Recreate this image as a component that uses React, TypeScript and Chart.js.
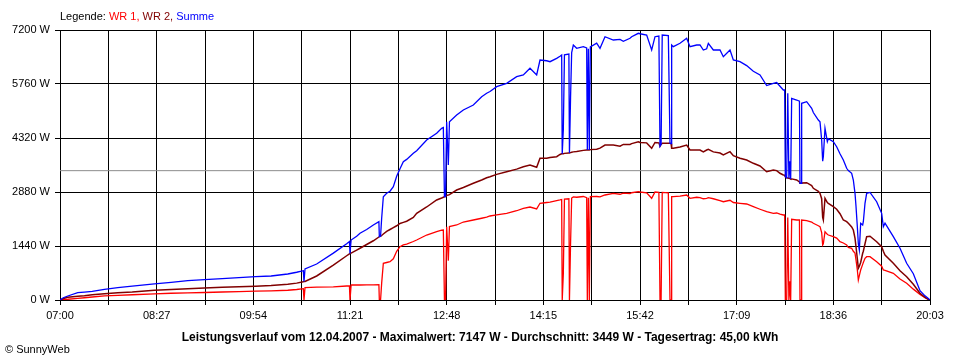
import React, { useEffect, useRef } from 'react';
import { Chart, registerables } from 'chart.js';

Chart.register(...registerables);

// minutes after 07:00
const minutesAfterStart = [
  0, 3, 7, 16, 22, 29, 40, 52, 65, 85, 100, 115, 130, 146, 161, 176, 190, 205, 213, 219,
  219.6, 220.5, 231, 246, 258, 260.5, 261, 262, 267, 270, 276, 282, 287, 287.4, 288.5, 289.5, 291, 294, 297, 300,
  303, 306, 309, 312, 318, 321, 330, 339, 343.5, 345, 346, 347, 348, 349.5, 350.5, 357, 363, 372, 379.5, 384,
  387, 393, 402, 411, 417, 423, 429, 432, 438, 441, 447, 450, 451.5, 452, 453, 454, 458, 458.5, 459.5, 460.5,
  462, 465, 471, 474, 474.6, 475.5, 476.4, 477.3, 483, 486, 490.5, 498, 504, 507, 513, 514.5, 520.5, 522, 528, 532.5,
  535.5, 539, 540, 541, 542, 547.5, 549, 550, 550.5, 552, 558, 564, 567, 573, 576, 579, 582, 583.5, 588, 594,
  597, 603, 606, 612, 618, 624, 630, 636, 642, 645, 648, 651, 652.2, 652.8, 654, 655, 656, 657, 657.6, 658.5,
  663, 665.5, 666, 667, 667.5, 672, 676.5, 678, 682.5, 684, 685.5, 686.4, 687, 688.5, 690.6, 691.5, 696, 699, 702, 705,
  708, 709.5, 712.5, 714, 715.5, 716.4, 717.6, 718.5, 719.4, 720.6, 722.4, 723, 724.5, 726, 729, 735, 739.5, 741, 742.5, 750,
  756, 762, 768, 774, 778.5, 781.5, 783,
];

const wr1Watts = [
  0, 15, 20, 45, 60, 80, 110, 125, 140, 165, 180, 190, 200, 213, 225, 235, 245, 260, 280, 301,
  0, 330, 345, 350, 373, 375, 0, 400, 400, 400, 405, 405, 410, 0, 0, 450, 979, 1000, 1021, 1100,
  1300, 1421, 1470, 1493, 1560, 1600, 1733, 1821, 1860, 1867, 0, 0, 1955, 1050, 1960, 2000, 2080, 2133, 2180, 2210,
  2240, 2270, 2312, 2380, 2445, 2480, 2430, 2579, 2600, 2610, 2650, 2667, 2680, 0, 700, 2690, 2700, 0, 1500, 2720,
  2750, 2740, 2760, 2730, 0, 2728, 0, 2755, 2760, 2750, 2800, 2845, 2820, 2850, 2840, 2860, 2888, 2880, 2860, 2712,
  2880, 2870, 0, 0, 2870, 2860, 0, 0, 2755, 2755, 2770, 2800, 2712, 2740, 2730, 2700, 2712, 2730, 2700, 2650,
  2621, 2660, 2600, 2579, 2560, 2488, 2420, 2355, 2312, 2320, 2290, 2267, 2267, 0, 0, 2200, 0, 500, 0, 2152,
  2133, 2133, 0, 0, 2133, 2115, 2080, 2045, 1980, 1955, 1800, 1467, 1500, 1821, 1750, 1733, 1688, 1650, 1555, 1520,
  1467, 1400, 1379, 1300, 1250, 1067, 800, 533, 650, 800, 950, 1000, 1112, 1155, 1155, 1020, 900, 800, 790, 712,
  560, 445, 290, 150, 60, 19, 0,
];

const wr2Watts = [
  0, 40, 72, 100, 115, 140, 168, 195, 213, 259, 280, 301, 320, 339, 352, 365, 385, 419, 450, 488,
  490, 495, 640, 933, 1180, 1230, 1240, 1250, 1330, 1380, 1480, 1580, 1680, 1690, 1700, 1720, 1760, 1830, 1880, 1930,
  1980, 2040, 2070, 2100, 2200, 2312, 2480, 2667, 2720, 2740, 2755, 2760, 2790, 2800, 2810, 2933, 3000, 3112, 3200, 3260,
  3288, 3350, 3421, 3490, 3555, 3600, 3540, 3779, 3779, 3800, 3821, 3880, 3900, 3900, 3900, 3910, 3920, 3920, 3930, 3940,
  3950, 3960, 3990, 4000, 4000, 4000, 4000, 4010, 4020, 4050, 4133, 4133, 4100, 4150, 4150, 4170, 4221, 4200, 4190, 4045,
  4200, 4190, 4100, 4150, 4179, 4179, 4179, 4170, 4045, 4045, 4080, 4133, 4000, 4000, 4000, 3950, 4000, 4020, 3950, 3920,
  3867, 3955, 3850, 3779, 3733, 3645, 3573, 3421, 3467, 3450, 3379, 3333, 3330, 3288, 3260, 3250, 3245, 3240, 3230, 3230,
  3200, 3150, 3112, 3112, 3120, 3128, 3050, 2979, 2900, 2845, 2700, 2200, 2133, 2712, 2600, 2579, 2488, 2420, 2300, 2133,
  2090, 2045, 1950, 1867, 1650, 1421, 1100, 845, 900, 1000, 1245, 1300, 1500, 1688, 1700, 1555, 1420, 1300, 1200, 979,
  780, 621, 420, 179, 70, 19, 0,
];

const summeWatts = [
  0, 60, 107, 195, 210, 232, 285, 328, 370, 430, 470, 515, 541, 568, 595, 621, 640, 693, 740, 781,
  495, 830, 960, 1250, 1500, 1560, 1240, 1600, 1700, 1779, 1880, 2000, 2088, 1690, 1700, 2179, 2755, 2845, 2900, 3021,
  3300, 3500, 3688, 3750, 3912, 3980, 4267, 4445, 4579, 4600, 2755, 2760, 4755, 3600, 4755, 4933, 5067, 5200, 5421, 5512,
  5560, 5688, 5779, 5955, 6000, 6179, 6000, 6400, 6380, 6355, 6445, 6500, 6533, 3900, 4550, 6540, 6560, 3920, 5400, 6600,
  6800, 6712, 6755, 6720, 4000, 6700, 4000, 6750, 6850, 6712, 7021, 6933, 6950, 6900, 6979, 7021, 7112, 7100, 7067, 6667,
  7021, 7040, 4100, 4150, 7067, 7050, 4179, 4170, 6800, 6755, 6845, 6979, 6755, 6800, 6800, 6667, 6700, 6845, 6667, 6667,
  6488, 6667, 6400, 6355, 6250, 6100, 6000, 5720, 5779, 5800, 5700, 5600, 5600, 3288, 3260, 5512, 3245, 3700, 3230, 5379,
  5333, 5300, 3112, 3112, 5245, 5288, 5112, 5000, 4800, 4750, 4267, 3700, 3821, 4579, 4221, 4300, 4221, 4088, 3900, 3733,
  3512, 3450, 3379, 3200, 2845, 2500, 1955, 1500, 1333, 2045, 2000, 2088, 2579, 2845, 2870, 2621, 2312, 1955, 2050, 1688,
  1379, 979, 700, 250, 110, 40, 0,
];

const averageWatts = 3449;
const startClockMinutes = 7 * 60;
const xMax = 783;
const xGridStep = 43.5;
const yMax = 7200;
const yStep = 1440;

const seriesNames = ['WR 1', 'WR 2', 'Summe'];
const seriesColors = ['#ff0000', '#800000', '#0000ff'];
const captionText =
  'Leistungsverlauf vom 12.04.2007 - Maximalwert: 7147 W - Durchschnitt: 3449 W - Tagesertrag: 45,00 kWh';
const creditText = '\u00a9 SunnyWeb';

const FONT = '"Liberation Sans", Arial, sans-serif';

function fmtClock(m: number): string {
  const total = Math.round(startClockMinutes + m);
  const h = Math.floor(total / 60);
  const mm = total % 60;
  return String(h).padStart(2, '0') + ':' + String(mm).padStart(2, '0');
}

function toPoints(vals: number[]) {
  return vals.map((v, i) => ({ x: minutesAfterStart[i], y: v }));
}

export default function App() {
  const ref = useRef<HTMLCanvasElement | null>(null);

  useEffect(() => {
    if (!ref.current) return;
    const chart = new Chart(ref.current, {
      type: 'line',
      data: {
        datasets: [
          {
            label: seriesNames[2],
            data: toPoints(summeWatts),
            borderColor: seriesColors[2],
            borderWidth: 1.3,
            pointRadius: 0,
            tension: 0,
            order: 1,
          },
          {
            label: seriesNames[1],
            data: toPoints(wr2Watts),
            borderColor: seriesColors[1],
            borderWidth: 1.5,
            pointRadius: 0,
            tension: 0,
            order: 2,
          },
          {
            label: seriesNames[0],
            data: toPoints(wr1Watts),
            borderColor: seriesColors[0],
            borderWidth: 1.3,
            pointRadius: 0,
            tension: 0,
            order: 3,
          },
          {
            label: 'Durchschnitt',
            data: [
              { x: 0, y: averageWatts },
              { x: xMax, y: averageWatts },
            ],
            borderColor: '#8c8c8c',
            borderWidth: 1,
            pointRadius: 0,
            order: 10,
          },
        ],
      },
      options: {
        animation: false,
        responsive: false,
        maintainAspectRatio: false,
        layout: { padding: { top: 30, right: 30, bottom: 30, left: 0 } },
        plugins: { legend: { display: false }, tooltip: { enabled: false }, title: { display: false } },
        scales: {
          x: {
            type: 'linear',
            min: 0,
            max: xMax,
            afterBuildTicks: (s: any) => {
              const n = Math.round(xMax / xGridStep);
              s.ticks = Array.from({ length: n + 1 }, (_, i) => ({ value: i * xGridStep }));
            },
            afterFit: (s: any) => {
              s.height = 30;
            },
            grid: { color: '#000', lineWidth: 1, tickLength: 5, drawTicks: true },
            border: { color: '#000', width: 1 },
            ticks: {
              autoSkip: false,
              maxRotation: 0,
              color: '#000',
              padding: 4,
              font: { family: FONT, size: 11 },
              callback: (v: any, i: number) => (i % 2 === 0 ? fmtClock(Number(v)) : ''),
            },
          },
          y: {
            min: 0,
            max: yMax,
            afterFit: (s: any) => {
              s.width = 60;
            },
            grid: { color: '#000', lineWidth: 1, tickLength: 5 },
            border: { color: '#000', width: 1 },
            ticks: {
              stepSize: yStep,
              color: '#000',
              padding: 5,
              font: { family: FONT, size: 11 },
              callback: (v: any) => v + ' W',
            },
          },
        },
      },
    } as any);
    return () => chart.destroy();
  }, []);

  return (
    <div
      style={{
        position: 'absolute',
        left: 0,
        top: 0,
        width: 960,
        height: 360,
        background: '#fff',
        fontFamily: FONT,
        color: '#000',
      }}
    >
      <canvas ref={ref} width={960} height={360} style={{ position: 'absolute', left: 0, top: 0, width: 960, height: 360 }} />
      <div style={{ position: 'absolute', left: 60, top: 10, fontSize: 11, lineHeight: '13px', whiteSpace: 'nowrap' }}>
        Legende:{' '}
        <span style={{ color: seriesColors[0] }}>{seriesNames[0]},</span>{' '}
        <span style={{ color: seriesColors[1] }}>{seriesNames[1]},</span>{' '}
        <span style={{ color: seriesColors[2] }}>{seriesNames[2]}</span>
      </div>
      <div
        style={{
          position: 'absolute',
          left: 0,
          width: 960,
          top: 331,
          textAlign: 'center',
          fontSize: 12,
          fontWeight: 'bold',
          lineHeight: '13px',
          whiteSpace: 'nowrap',
        }}
      >
        {captionText}
      </div>
      <div style={{ position: 'absolute', left: 5, top: 343, fontSize: 11, lineHeight: '13px', whiteSpace: 'nowrap' }}>
        {creditText}
      </div>
    </div>
  );
}
